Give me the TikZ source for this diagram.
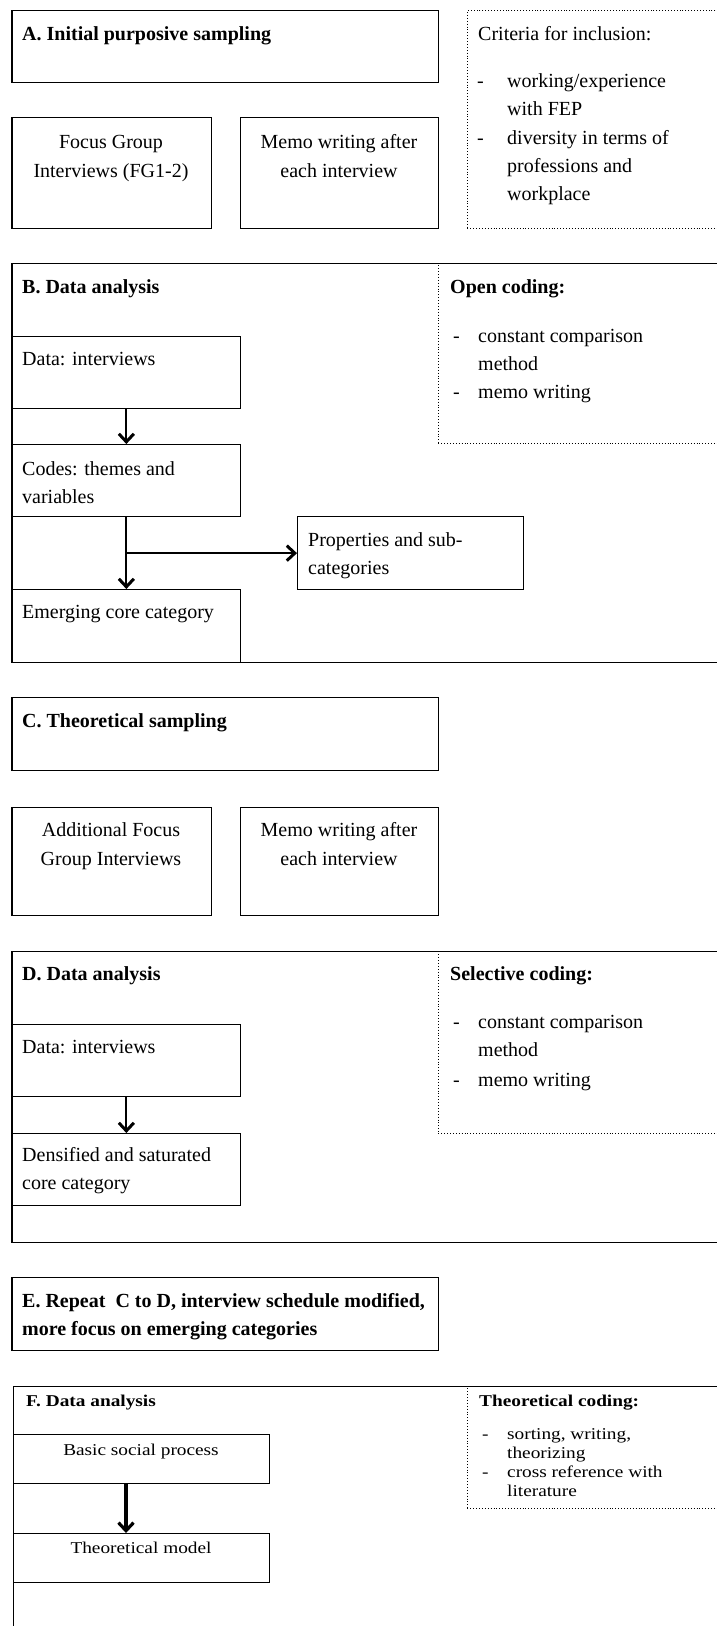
\documentclass[tikz,border=0pt]{standalone}
\usepackage{fontspec}
\setmainfont{Liberation Serif}
\newfontfamily\widefont[FakeStretch=1.17]{Liberation Serif}
\usetikzlibrary{arrows.meta}
\tikzset{
  box/.style={draw, line width=1.3pt, anchor=north west, inner sep=0pt},
  thinbox/.style={draw, line width=1pt, anchor=north west, inner sep=0pt},
  dotbox/.style={draw, dotted, line width=0.9pt, anchor=north west, inner sep=0pt},
  % multi-line texts are placed by the baseline of their last line
  txt/.style={anchor=base west, inner sep=0pt, align=left, font=\fontsize{20}{28}\selectfont},
  head/.style={txt, font=\fontsize{20}{28}\selectfont\bfseries},
  ctxt/.style={anchor=base, inner sep=0pt, align=center, font=\fontsize{20}{28.5}\selectfont},
  ftxt/.style={anchor=base west, inner sep=0pt, align=left, font=\widefont\fontsize{16.5}{19}\selectfont},
  fhead/.style={ftxt, font=\widefont\fontsize{16.5}{19}\selectfont\bfseries},
  fctxt/.style={ftxt, anchor=base},
  flow/.style={-{Straight Barb[length=8pt,width=15pt,line width=3pt]}, line width=2.2pt},
  bigflow/.style={-{Straight Barb[length=8pt,width=15pt,line width=3.2pt]}, line width=3.2pt},
}
\begin{document}
\begin{tikzpicture}[x=1pt,y=-1pt]
\useasboundingbox (0,0) rectangle (717,1626);
\clip (0,0) rectangle (717,1626);

% ---------- A. Initial purposive sampling ----------
\node[box, minimum width=426.6pt, minimum height=72pt] (boxA) at (11.4,10) {};
\node[head] (headA) at (22,40) {A. Initial purposive sampling};
\node[box, minimum width=199.6pt, minimum height=111pt] (fg) at (11.4,117) {};
\node[ctxt] (fgtxt) at (111,177) {Focus Group\\Interviews (FG1-2)};
\node[box, minimum width=198pt, minimum height=111pt] (memoA) at (240,117) {};
\node[ctxt] (memoAtxt) at (339,177) {Memo writing after\\each interview};
\node[dotbox, minimum width=273pt, minimum height=218pt] (crit) at (467,10) {};
\node[txt] (crithead) at (478,40) {Criteria for inclusion:};
\node[txt] (critd1) at (477,87) {-};
\node[txt] (crit1) at (507,115) {working/experience\\with FEP};
\node[txt] (critd2) at (477,144) {-};
\node[txt] (crit2) at (507,200) {diversity in terms of\\professions and\\workplace};

% ---------- B. Data analysis ----------
\node[dotbox, minimum width=302pt, minimum height=180pt] (open) at (438,263) {};
\node[box, minimum width=728.6pt, minimum height=399pt] (frameB) at (11.4,263) {};
\node[head] (headB) at (22,293) {B. Data analysis};
\node[head] (openhead) at (450,293) {Open coding:};
\node[txt] (opend1) at (453,342) {-};
\node[txt] (open1) at (478,370) {constant comparison\\method};
\node[txt] (opend2) at (453,398) {-};
\node[txt] (open2) at (478,398) {memo writing};
\node[box, minimum width=228.6pt, minimum height=72pt] (dataB) at (11.4,336) {};
\node[txt] (dataBtxt) at (22,365) {Data: interviews};
\node[box, minimum width=228.6pt, minimum height=72pt] (codes) at (11.4,444) {};
\node[txt] (codestxt) at (22,503) {Codes: themes and\\variables};
\node[box, minimum width=226pt, minimum height=73pt] (props) at (297,516) {};
\node[txt] (propstxt) at (308,574) {Properties and sub-\\categories};
\node[box, minimum width=228.6pt, minimum height=73pt] (emerg) at (11.4,589) {};
\node[txt] (emergtxt) at (22,618) {Emerging core category};
\draw[flow] (dataB.south) -- (codes.north);
\draw[flow] (codes.south) -- (emerg.north);
\draw[flow] (codes.south |- props.west) -- (props.west);

% ---------- C. Theoretical sampling ----------
\node[box, minimum width=426.6pt, minimum height=73pt] (boxC) at (11.4,697) {};
\node[head] (headC) at (22,727) {C. Theoretical sampling};
\node[box, minimum width=199.6pt, minimum height=108pt] (addfg) at (11.4,807) {};
\node[ctxt] (addfgtxt) at (111,865) {Additional Focus\\Group Interviews};
\node[box, minimum width=198pt, minimum height=108pt] (memoC) at (240,807) {};
\node[ctxt] (memoCtxt) at (339,865) {Memo writing after\\each interview};

% ---------- D. Data analysis ----------
\node[dotbox, minimum width=302pt, minimum height=182pt] (selective) at (438,951) {};
\node[box, minimum width=728.6pt, minimum height=291pt] (frameD) at (11.4,951) {};
\node[head] (headD) at (22,980) {D. Data analysis};
\node[head] (selhead) at (450,980) {Selective coding:};
\node[txt] (seld1) at (453,1028) {-};
\node[txt] (sel1) at (478,1056) {constant comparison\\method};
\node[txt] (seld2) at (453,1086) {-};
\node[txt] (sel2) at (478,1086) {memo writing};
\node[box, minimum width=228.6pt, minimum height=72pt] (dataD) at (11.4,1024) {};
\node[txt] (dataDtxt) at (22,1053) {Data: interviews};
\node[box, minimum width=228.6pt, minimum height=72pt] (dens) at (11.4,1133) {};
\node[txt] (denstxt) at (22,1189) {Densified and saturated\\core category};
\draw[flow] (dataD.south) -- (dens.north);

% ---------- E. Repeat ----------
\node[box, minimum width=426.6pt, minimum height=73pt] (boxE) at (11.4,1277) {};
\node[head] (headE) at (22,1335) {E. Repeat\ \ C to D, interview schedule modified,\\more focus on emerging categories};

% ---------- F. Data analysis ----------
\node[dotbox, minimum width=273pt, minimum height=122pt] (theo) at (467,1386) {};
\node[thinbox, minimum width=727.5pt, minimum height=264pt] (frameF) at (12.5,1386) {};
\node[fhead] (headF) at (26,1406) {F. Data analysis};
\node[fhead] (theohead) at (479,1406) {Theoretical coding:};
\node[ftxt] (theod1) at (482,1439) {-};
\node[ftxt] (theo1) at (507,1458) {sorting, writing,\\theorizing};
\node[ftxt] (theod2) at (482,1477) {-};
\node[ftxt] (theo2) at (507,1496) {cross reference with\\literature};
\node[thinbox, minimum width=256.5pt, minimum height=49pt] (basic) at (12.5,1434) {};
\node[fctxt] (basictxt) at (141,1455) {Basic social process};
\node[thinbox, minimum width=256.5pt, minimum height=49pt] (model) at (12.5,1533) {};
\node[fctxt] (modeltxt) at (141,1553) {Theoretical model};
\coordinate (fx) at (126,0);
\draw[bigflow] (basic.south -| fx) -- (model.north -| fx);
\end{tikzpicture}
\end{document}
